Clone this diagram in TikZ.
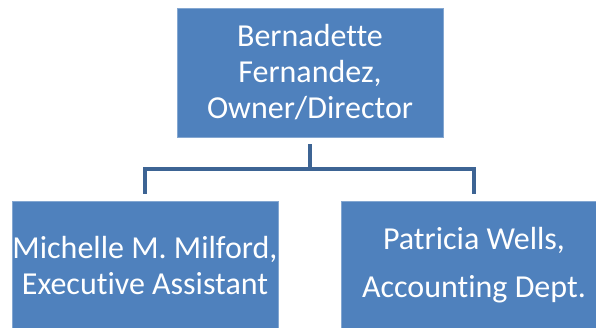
\documentclass[tikz,border=0pt]{standalone}
\usepackage{fontspec}
\setmainfont{Carlito}[RawFeature={-liga;-clig}]
\usepackage{tikz}
\usetikzlibrary{positioning}
\definecolor{boxblue}{RGB}{79,129,189}
\definecolor{linkblue}{RGB}{61,100,148}

\begin{document}
\begin{tikzpicture}[
            x=1pt, y=1pt,
            person/.style={
                rectangle, fill=boxblue, draw=boxblue!70!white, line width=0.6pt,
                minimum width=266pt, minimum height=129pt, inner sep=0pt,
                align=center, text=white,
                font=\fontsize{32}{36}\selectfont
            },
            link/.style={draw=linkblue, line width=4pt}
        ]
        \useasboundingbox (0,0) rectangle (596,-328);
        % Owner
        \node[person] (boss) at (310,-72.5) {Bernadette\\Fernandez,\\Owner/Director};

        % Staff
        \node[person] (asst) at (145,-265.5) {Michelle M. Milford,\\Executive Assistant};
        \node[person] (acct) at (474,-265.5) {Patricia Wells,\\[12pt]Accounting Dept.};

        % Links
        \draw[link] ([yshift=-7pt]boss.south) -- ++(0,-25) coordinate (hub);
        \draw[link] (hub) -| ([yshift=7pt]asst.north);
        \draw[link] (hub) -| ([yshift=7pt]acct.north);
\end{tikzpicture}
\end{document}
